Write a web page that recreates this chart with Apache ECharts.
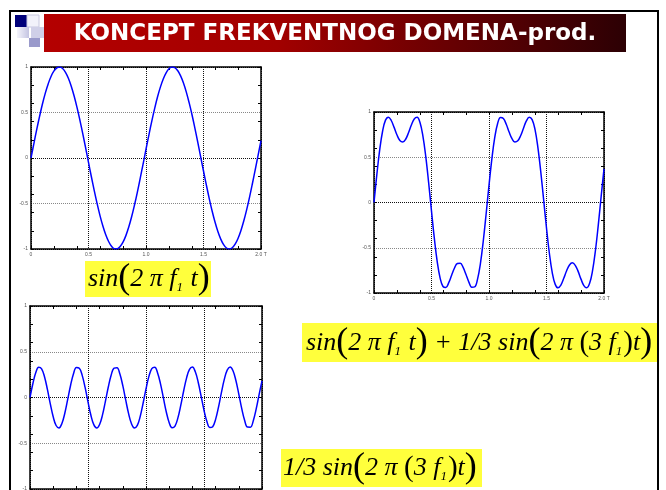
<!DOCTYPE html>
<html>
<head>
<meta charset="utf-8">
<script src="https://cdn.jsdelivr.net/npm/echarts@6/dist/echarts.min.js"></script>
<style>
html, body { margin: 0; padding: 0; background: #fff; }
#main { width: 666px; height: 490px; }
</style>
</head>
<body>
<div id="main"></div>
<script>
// time axis, in periods T
const times = [
    0, 0.025, 0.05, 0.075, 0.1, 0.125, 0.15, 0.175, 0.2, 0.225,
    0.25, 0.275, 0.3, 0.325, 0.35, 0.375, 0.4, 0.425, 0.45, 0.475,
    0.5, 0.525, 0.55, 0.575, 0.6, 0.625, 0.65, 0.675, 0.7, 0.725,
    0.75, 0.775, 0.8, 0.825, 0.85, 0.875, 0.9, 0.925, 0.95, 0.975,
    1, 1.025, 1.05, 1.075, 1.1, 1.125, 1.15, 1.175, 1.2, 1.225,
    1.25, 1.275, 1.3, 1.325, 1.35, 1.375, 1.4, 1.425, 1.45, 1.475,
    1.5, 1.525, 1.55, 1.575, 1.6, 1.625, 1.65, 1.675, 1.7, 1.725,
    1.75, 1.775, 1.8, 1.825, 1.85, 1.875, 1.9, 1.925, 1.95, 1.975,
    2
];

// sin(2 pi f1 t)
const sinF1 = [
    0.000, 0.159, 0.314, 0.460, 0.596, 0.716, 0.817, 0.899, 0.957, 0.991,
    1.000, 0.983, 0.942, 0.877, 0.789, 0.681, 0.556, 0.417, 0.268, 0.111,
    -0.048, -0.206, -0.359, -0.502, -0.633, -0.748, -0.844, -0.918, -0.970, -0.996,
    -0.997, -0.973, -0.925, -0.853, -0.759, -0.646, -0.516, -0.374, -0.221, -0.064,
    0.096, 0.252, 0.403, 0.543, 0.670, 0.779, 0.869, 0.936, 0.980, 0.999,
    0.993, 0.961, 0.905, 0.827, 0.727, 0.608, 0.475, 0.329, 0.175, 0.016,
    -0.143, -0.298, -0.446, -0.583, -0.704, -0.808, -0.891, -0.952, -0.989, -1.000,
    -0.986, -0.947, -0.884, -0.799, -0.693, -0.570, -0.432, -0.283, -0.127, 0.032,
    0.190
];

// sin(2 pi f1 t) + 1/3 sin(2 pi (3 f1) t)
const sinSum = [
    0.000, 0.312, 0.587, 0.790, 0.910, 0.943, 0.906, 0.830, 0.746, 0.685,
    0.668, 0.699, 0.770, 0.856, 0.923, 0.941, 0.883, 0.737, 0.510, 0.221,
    -0.096, -0.400, -0.656, -0.835, -0.928, -0.938, -0.886, -0.803, -0.724, -0.674,
    -0.671, -0.717, -0.796, -0.880, -0.936, -0.933, -0.849, -0.678, -0.428, -0.127,
    0.190, 0.483, 0.719, 0.873, 0.939, 0.928, 0.864, 0.778, 0.705, 0.668,
    0.681, 0.738, 0.821, 0.901, 0.942, 0.916, 0.807, 0.610, 0.342, 0.032,
    -0.282, -0.561, -0.774, -0.902, -0.943, -0.913, -0.838, -0.754, -0.690, -0.667,
    -0.694, -0.761, -0.847, -0.918, -0.942, -0.893, -0.756, -0.536, -0.252, 0.064,
    0.371
];

// 1/3 sin(2 pi (3 f1) t)
const sin3F1 = [
    0.000, 0.153, 0.273, 0.330, 0.314, 0.227, 0.089, -0.069, -0.211, -0.306,
    -0.332, -0.284, -0.172, -0.021, 0.134, 0.260, 0.327, 0.320, 0.242, 0.110,
    -0.048, -0.194, -0.297, -0.333, -0.295, -0.190, -0.042, 0.115, 0.246, 0.322,
    0.326, 0.256, 0.129, -0.027, -0.177, -0.287, -0.333, -0.304, -0.207, -0.063,
    0.094, 0.231, 0.316, 0.330, 0.269, 0.149, -0.005, -0.158, -0.275, -0.331,
    -0.312, -0.223, -0.084, 0.074, 0.215, 0.308, 0.332, 0.281, 0.167, 0.016,
    -0.139, -0.263, -0.328, -0.319, -0.239, -0.105, 0.053, 0.198, 0.299, 0.333,
    0.292, 0.186, 0.037, -0.119, -0.249, -0.323, -0.324, -0.253, -0.125, 0.032,
    0.181
];

const xTickValues = [0, 0.5, 1, 1.5, 2];
const xTickLabels = ['0', '0.5', '1.0', '1.5', '2.0 T'];

const titleText = 'KONCEPT FREKVENTNOG DOMENA-prod.';

const grids = [
    { left: 31, top: 67, width: 230, height: 182, outerBoundsMode: 'none' },
    { left: 374, top: 112, width: 230, height: 181, outerBoundsMode: 'none' },
    { left: 30, top: 306, width: 232, height: 183, outerBoundsMode: 'none' }
];
const seriesList = [sinF1, sinSum, sin3F1];

const black = { color: '#000', width: 1.5 };

function xLabel(value) {
    let i = xTickValues.indexOf(Math.round(value * 10) / 10);
    return i < 0 ? '' : xTickLabels[i];
}

function makeXAxes(g) {
    return [
        {
            type: 'value', gridIndex: g, position: 'bottom', min: 0, max: 2, interval: 0.5,
            axisLine: { show: true, onZero: false, lineStyle: black },
            axisTick: { show: false },
            axisLabel: { fontSize: 5, color: '#555', margin: 3, formatter: xLabel },
            splitLine: { show: true, lineStyle: { color: '#111', width: 1, type: [1, 1] } }
        },
        tickAxis(g, 'bottom', 0, 2),
        Object.assign(tickAxis(g, 'top', 0, 2), { axisLine: { show: true, onZero: false, lineStyle: black } })
    ];
}

function makeYAxes(g) {
    return [
        {
            type: 'value', gridIndex: g, position: 'left', min: -1, max: 1, interval: 0.5,
            axisLine: { show: true, onZero: false, lineStyle: black },
            axisTick: { show: false },
            axisLabel: { fontSize: 5, color: '#555', margin: 3 },
            splitLine: {
                show: true,
                lineStyle: { color: ['#000', '#888', '#111', '#888', '#000'], width: 1, type: [1, 1] }
            }
        },
        tickAxis(g, 'left', -1, 1),
        Object.assign(tickAxis(g, 'right', -1, 1), { axisLine: { show: true, onZero: false, lineStyle: black } })
    ];
}

function tickAxis(g, position, min, max) {
    return {
        type: 'value', gridIndex: g, position: position, min: min, max: max, interval: 0.2,
        axisLine: { show: false, onZero: false },
        axisTick: { show: true, inside: true, length: 3, lineStyle: { color: '#000', width: 1 } },
        axisLabel: { show: false },
        splitLine: { show: false }
    };
}

function formula(x, y, text) {
    return {
        type: 'text', x: x, y: y, z: 10,
        style: {
            text: text,
            align: 'left', verticalAlign: 'middle',
            textAlign: 'left', textVerticalAlign: 'middle',
            fill: '#000',
            rich: {
                t: { fontFamily: 'Liberation Serif', fontStyle: 'italic', fontSize: 26, fill: '#000', lineHeight: 36 },
                p: { fontFamily: 'Liberation Serif', fontSize: 36, fill: '#000', lineHeight: 36 },
                m: { fontFamily: 'Liberation Serif', fontSize: 29, fill: '#000', lineHeight: 36 },
                s: { fontFamily: 'Liberation Serif', fontStyle: 'italic', fontSize: 13, fill: '#000', lineHeight: 36, padding: [18, 1, 0, 0] }
            }
        }
    };
}

const xAxes = [], yAxes = [], series = [];
grids.forEach(function (grid, g) {
    xAxes.push(...makeXAxes(g));
    yAxes.push(...makeYAxes(g));
    series.push({
        type: 'line',
        xAxisIndex: g * 3,
        yAxisIndex: g * 3,
        symbol: 'none',
        smooth: 0.4,
        lineStyle: { color: '#0000ff', width: 1.5 },
        data: times.map(function (t, i) { return [t, seriesList[g][i]]; })
    });
});

const f1 = '{t|sin}{p|(}{t|2 π f}{s|1}{t| t}{p|)}';
const f3 = '{t|1/3 sin}{p|(}{t|2 π }{m|(}{t|3 f}{s|1}{m|)}{t|t}{p|)}';

const chart = echarts.init(document.getElementById('main'));
chart.setOption({
    backgroundColor: '#fff',
    animation: false,
    grid: grids,
    xAxis: xAxes,
    yAxis: yAxes,
    series: series,
    graphic: [
        // slide decoration
        { type: 'rect', shape: { x: 15, y: 15, width: 12, height: 12 }, style: { fill: '#00007a' } },
        { type: 'rect', shape: { x: 27, y: 15, width: 12, height: 12 }, style: { fill: '#f2f2fa', stroke: '#c8c8e0', lineWidth: 1 } },
        { type: 'rect', shape: { x: 17, y: 27, width: 12, height: 11 }, style: { fill: new echarts.graphic.LinearGradient(0, 0, 1, 0, [{ offset: 0, color: '#f4f4fb' }, { offset: 1, color: '#c4c4e2' }]) } },
        { type: 'rect', shape: { x: 31, y: 27, width: 13, height: 11 }, style: { fill: '#d0d0e8' } },
        { type: 'rect', shape: { x: 29, y: 38, width: 11, height: 9 }, style: { fill: '#9a9acb' } },
        {
            type: 'rect', shape: { x: 44, y: 14, width: 582, height: 38 },
            style: {
                fill: new echarts.graphic.LinearGradient(0, 0, 1, 0, [
                    { offset: 0, color: '#b40000' },
                    { offset: 0.4, color: '#a20000' },
                    { offset: 1, color: '#2c0004' }
                ])
            }
        },
        {
            type: 'text', x: 335, y: 34, z: 10,
            style: {
                text: titleText, fill: '#fff',
                fontFamily: 'DejaVu Sans', fontWeight: 'bold', fontSize: 23,
                align: 'center', verticalAlign: 'middle',
                textAlign: 'center', textVerticalAlign: 'middle'
            }
        },
        // formulas
        { type: 'rect', shape: { x: 85, y: 261, width: 126, height: 36 }, style: { fill: '#ffff3c' } },
        formula(88, 279, f1),
        { type: 'rect', shape: { x: 302, y: 323, width: 357, height: 39 }, style: { fill: '#ffff3c' } },
        formula(306, 343, f1 + '{t| + }' + f3),
        { type: 'rect', shape: { x: 281, y: 449, width: 201, height: 38 }, style: { fill: '#ffff3c' } },
        formula(283, 468, f3),
        // slide frame
        {
            type: 'polyline', z: 20,
            shape: { points: [[10, 490], [10, 11], [658, 11], [658, 490]] },
            style: { stroke: '#000', lineWidth: 2, fill: null }
        }
    ]
});
</script>
</body>
</html>
